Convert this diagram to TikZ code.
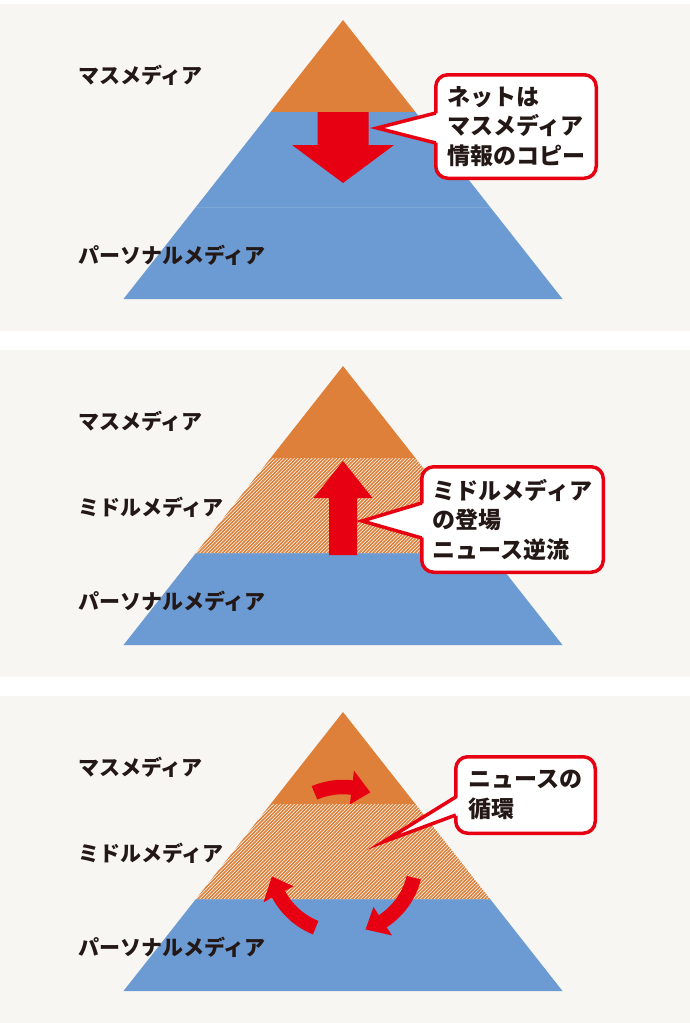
\documentclass[tikz,border=0pt]{standalone}
\usepackage{fontspec}
\newfontfamily\jpfont{Noto Sans CJK JP}
\definecolor{panelbg}{RGB}{247,246,242}
\definecolor{massorange}{RGB}{223,128,58}
\definecolor{persblue}{RGB}{107,155,210}
\definecolor{alertred}{RGB}{230,0,18}
\definecolor{inkblack}{RGB}{35,24,21}

\tikzset{
  layer label/.style={anchor=west,inner sep=0pt,text=inkblack,
    font=\jpfont\bfseries\fontsize{21}{21}\selectfont},
  callbox/.style={draw=alertred,line width=3.5pt,fill=white,rounded corners=12pt,
    outer sep=0pt,inner sep=0pt,align=left,text=inkblack,
    font=\jpfont\bfseries\fontsize{23}{29.5}\selectfont},
  pointer/.style={draw=alertred,line width=3.5pt,line join=miter,miter limit=25},
  hatch line/.style={draw=massorange,line width=1.55pt},
}

\begin{document}
\begin{tikzpicture}[x=1pt,y=-1pt]
\useasboundingbox (0,0) rectangle (690,1023);
\fill[white] (0,0) rectangle (690,1023);

% three panels, same pyramid
\foreach \k in {0,1,2}{
  \begin{scope}[shift={(0,4+346*\k)}]
    \fill[panelbg] (0,0) rectangle (690,327);
    \fill[massorange] (343,16) -- (415.4,108) -- (270.6,108) -- cycle;
    \fill[persblue] (195.9,203) -- (490.1,203) -- (562.5,295) -- (123.5,295) -- cycle;
    \node[layer label] (mass\k) at (78,71) {マスメディア};
    \node[layer label] (pers\k) at (78,251) {パーソナルメディア};
  \end{scope}
}

% hatched middle layer, panels 2 and 3
\foreach \k in {1,2}{
  \begin{scope}[shift={(0,4+346*\k)}]
    \node[layer label] (middle\k) at (78,157) {ミドルメディア};
    \begin{scope}
      \clip (270.6,108) -- (415.4,108) -- (490.1,203) -- (195.9,203) -- cycle;
      \fill[white] (190,100) rectangle (500,210);
      \foreach \x in {98,101.5,...,492}
        \draw[hatch line] (\x,205) -- ++(100,-100);
    \end{scope}
  \end{scope}
}

% panel 1
\begin{scope}[shift={(0,4)}]
  \fill[persblue] (270.6,108) -- (415.4,108) -- (490.1,203) -- (195.9,203) -- cycle;
  \draw[persblue!88!white,line width=1pt] (195.9,203) -- (490.1,203);
  \fill[alertred] (317.5,108) -- (368.5,108) -- (368.5,141) -- (394,141)
    -- (343,179) -- (292,141) -- (317.5,141) -- cycle;
  \node[callbox,minimum width=160.5pt,minimum height=103.5pt] (netbox) at (516,122.5)
    {ネットは\\マスメディア\\情報のコピー};
  \coordinate (nettip) at (377,124);
  \coordinate (netup) at (netbox.west |- 0,109);
  \coordinate (netlow) at (netbox.west |- 0,139);
  \fill[white] (nettip) -- ([xshift=3pt]netup) -- ([xshift=3pt]netlow) -- cycle;
  \draw[pointer] (netup) -- (nettip) -- (netlow);
\end{scope}

% panel 2
\begin{scope}[shift={(0,350)}]
  \fill[alertred] (329,205) -- (357,205) -- (357,148) -- (372.5,148)
    -- (343,111) -- (313.5,148) -- (329,148) -- cycle;
  \node[callbox,minimum width=181.5pt,minimum height=105.5pt] (midbox) at (512.5,169.5)
    {ミドルメディア\\の登場\\ニュース逆流};
  \coordinate (midtip) at (362,171);
  \coordinate (midup) at (midbox.west |- 0,153);
  \coordinate (midlow) at (midbox.west |- 0,188);
  \fill[white] (midtip) -- ([xshift=3pt]midup) -- ([xshift=3pt]midlow) -- cycle;
  \draw[pointer] (midup) -- (midtip) -- (midlow);
\end{scope}

% panel 3
\begin{scope}[shift={(0,696)}]
  \begin{scope}[shift={(343,164)}]
    \foreach \s/\h/\t in {-113/-83/-68, 14/57/72, -248/-208/-193}
      \fill[alertred] (\s:80.25) arc[start angle=\s,end angle=\h,radius=80.25]
        -- (\h:90) -- (\t:73) -- (\h:56) -- (\h:65.75)
        arc[start angle=\h,end angle=\s,radius=65.75] -- cycle;
  \end{scope}
  \node[callbox,minimum width=139.5pt,minimum height=76.5pt] (loopbox) at (525.5,99)
    {ニュースの\\循環};
  \coordinate (looptip) at (383,146);
  \coordinate (loopup) at (loopbox.west |- 0,101);
  \coordinate (looplow) at (loopbox.west |- 0,119);
  \fill[white] (looptip) -- ([xshift=3pt]loopup) -- ([xshift=3pt]looplow) -- cycle;
  \draw[pointer] (loopup) -- (looptip) -- (looplow);
\end{scope}
\end{tikzpicture}
\end{document}
